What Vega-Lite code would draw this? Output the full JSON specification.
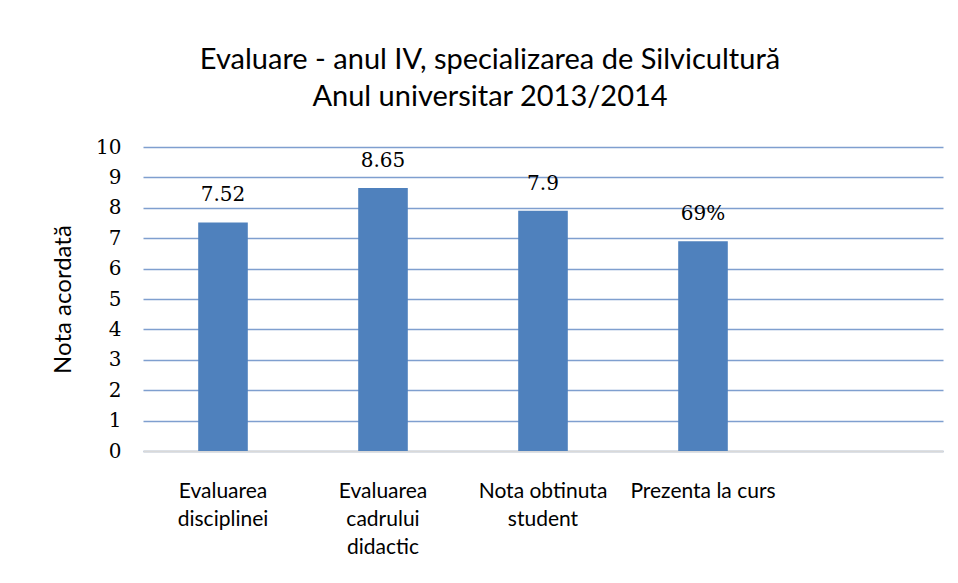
{
  "$schema": "https://vega.github.io/schema/vega-lite/v6.json",
  "autosize": "none",
  "width": 800,
  "height": 304,
  "padding": {"left": 143, "top": 147, "right": 15, "bottom": 132},
  "background": "white",
  "config": {"view": {"stroke": null}},
  "title": {
    "text": ["Evaluare - anul IV, specializarea de Silvicultură", "Anul universitar 2013/2014"],
    "font": "Lato",
    "fontSize": 29,
    "fontWeight": "normal",
    "color": "#000000",
    "anchor": "middle",
    "dx": -53,
    "offset": 25,
    "lineHeight": 37
  },
  "data": {
    "values": [
      {"cat": "Evaluarea|disciplinei", "val": 7.52, "label": "7.52"},
      {"cat": "Evaluarea|cadrului|didactic", "val": 8.65, "label": "8.65"},
      {"cat": "Nota obtinuta|student", "val": 7.9, "label": "7.9"},
      {"cat": "Prezenta la curs", "val": 6.9, "label": "69%"}
    ]
  },
  "encoding": {
    "x": {
      "field": "cat",
      "type": "nominal",
      "sort": null,
      "scale": {
        "domain": ["Evaluarea|disciplinei", "Evaluarea|cadrului|didactic", "Nota obtinuta|student", "Prezenta la curs", " "],
        "paddingInner": 0.69,
        "paddingOuter": 0.345
      },
      "axis": {
        "title": null,
        "labelAngle": 0,
        "labelExpr": "split(datum.value, '|')",
        "labelFont": "Lato",
        "labelFontSize": 21,
        "labelColor": "#000000",
        "labelPadding": 40,
        "labelLineHeight": 28,
        "labelBaseline": "middle",
        "ticks": false,
        "domainColor": "#D9D9D9",
        "domainWidth": 2,
        "grid": false
      }
    },
    "y": {
      "field": "val",
      "type": "quantitative",
      "scale": {"domain": [0, 10]},
      "axis": {
        "title": "Nota acordată",
        "titleFont": "Lato",
        "titleFontSize": 24,
        "titleFontWeight": "normal",
        "titleColor": "#000000",
        "titlePadding": 20,
        "values": [0, 1, 2, 3, 4, 5, 6, 7, 8, 9, 10],
        "labelFont": "DejaVu Serif",
        "labelFontSize": 20,
        "labelColor": "#000000",
        "labelPadding": 22,
        "ticks": false,
        "domain": false,
        "grid": true,
        "gridColor": "#7F9FCF",
        "gridWidth": 1.5
      }
    }
  },
  "layer": [
    {"mark": {"type": "bar", "color": "#4F81BD"}},
    {
      "mark": {"type": "text", "baseline": "bottom", "dy": -17, "font": "DejaVu Serif", "fontSize": 20, "color": "#000000"},
      "encoding": {"text": {"field": "label"}}
    }
  ]
}
